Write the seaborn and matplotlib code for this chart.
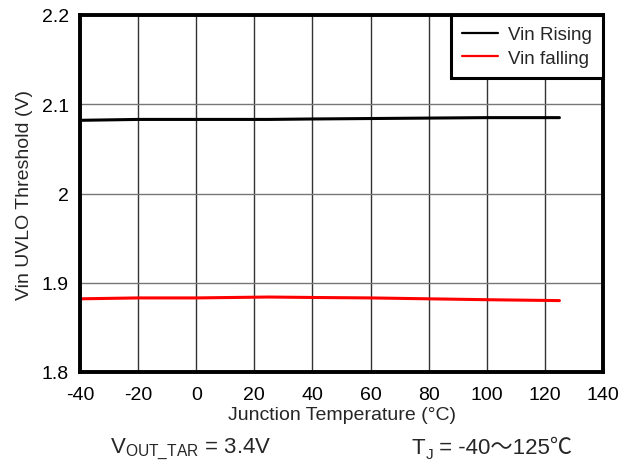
import matplotlib
matplotlib.use("Agg")
import matplotlib.pyplot as plt
import seaborn as sns
import pandas as pd

temps = [-40, -20, 0, 25, 40, 60, 80, 100, 125]
vin_rising = [2.082, 2.083, 2.083, 2.083, 2.0835, 2.084, 2.0845, 2.085, 2.085]
vin_falling = [1.882, 1.883, 1.883, 1.884, 1.8835, 1.883, 1.882, 1.881, 1.880]
series_names = ["Vin Rising", "Vin falling"]
series_colors = ["#000000", "#ff0000"]
x_ticks = [-40, -20, 0, 20, 40, 60, 80, 100, 120, 140]
y_ticks = [1.8, 1.9, 2.0, 2.1, 2.2]
y_tick_labels = ["1.8", "1.9", "2", "2.1", "2.2"]

sns.set_theme(style="white")
plt.rcParams["font.family"] = ["Liberation Sans", "Noto Sans CJK SC", "DejaVu Sans"]
plt.rcParams["mathtext.fontset"] = "custom"
plt.rcParams["mathtext.rm"] = "Liberation Sans"

df = pd.DataFrame({
    "temp": temps * 2,
    "value": vin_rising + vin_falling,
    "series": [series_names[0]] * len(temps) + [series_names[1]] * len(temps),
})

fig = plt.figure(figsize=(6.34, 4.64), dpi=100)
ax = fig.add_axes([80 / 634, 1 - 373 / 464, 523 / 634, 357 / 464])

sns.lineplot(data=df, x="temp", y="value", hue="series", palette=series_colors,
             linewidth=2.2, ax=ax, legend=True)

ax.set_xlim(-40, 140)
ax.set_ylim(1.8, 2.2)
ax.set_xticks(x_ticks)
ax.set_xticklabels([str(t) for t in x_ticks])
ax.set_yticks(y_ticks)
ax.set_yticklabels(y_tick_labels)
ax.tick_params(axis="both", labelsize=14, length=0, colors="black")
ax.tick_params(axis="x", pad=10)
ax.tick_params(axis="y", pad=8)
ax.xaxis.grid(True, color="#333333", linewidth=1.0)
ax.yaxis.grid(True, color="#777777", linewidth=1.0)
for sp in ax.spines.values():
    sp.set_color("black")
    sp.set_linewidth(2.8)

ax.set_xlabel("Junction Temperature (°C)", fontsize=14, labelpad=2)
ax.set_ylabel("Vin UVLO Threshold (V)", fontsize=14, labelpad=6)

leg = ax.legend(loc="upper right", fontsize=13.5, frameon=True, fancybox=False,
                framealpha=1.0, borderaxespad=0, handlelength=1.92,
                handletextpad=0.53, borderpad=0.6, labelspacing=0.32)
leg.get_frame().set_edgecolor("black")
leg.get_frame().set_linewidth(2.2)
for line in leg.get_lines():
    line.set_linewidth(1.6)

yb = 1 - 449 / 464
fig.text(110 / 634, yb, r"V$_{\mathregular{OUT\_TAR}}$ = 3.4V",
         fontsize=16, va="center", ha="left")

# "T_J = -40～125℃" built from pieces so the subscript sits below the baseline
fig.canvas.draw()
renderer = fig.canvas.get_renderer()
x0 = 412 / 634
t1 = fig.text(x0, yb, "T", fontsize=16, va="center", ha="left")
bb = t1.get_window_extent(renderer)
x1 = bb.x1 / fig.bbox.width
t2 = fig.text(x1, yb - 0.014, "J", fontsize=11, va="center", ha="left")
bb2 = t2.get_window_extent(renderer)
x2 = bb2.x1 / fig.bbox.width
fig.text(x2, yb, " = -40～125℃", fontsize=16, va="center", ha="left")

fig.savefig("out.png", dpi=100)
